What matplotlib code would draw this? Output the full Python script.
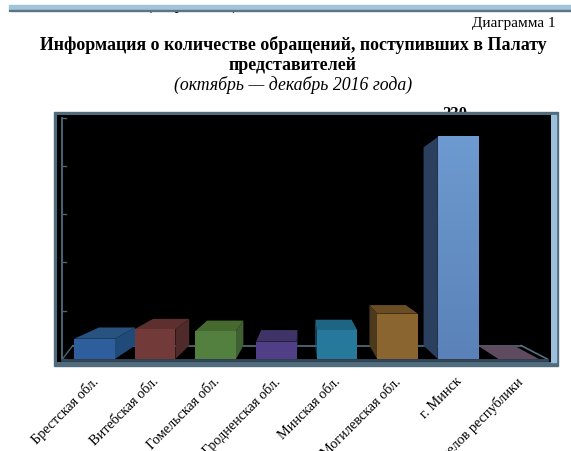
import matplotlib
matplotlib.use('Agg')
import numpy as np
from matplotlib import pyplot as plt
from matplotlib.colors import LinearSegmentedColormap
from matplotlib.patches import Polygon, Rectangle
from matplotlib.transforms import Bbox

plt.rcParams['font.family'] = ['Liberation Serif', 'DejaVu Serif']

categories = ['Брестская обл.', 'Витебская обл.', 'Гомельская обл.', 'Гродненская обл.',
              'Минская обл.', 'Могилевская обл.', 'г. Минск', 'отделов республики']
values = [21, 31, 29, 18, 30, 47, 230, 0]
yticks = [0, 50, 100, 150, 200, 250]

front_colors = ['#2e5f9c', '#733a3a', '#54803f', '#503f86', '#27799b', '#8a6530', '#6d9ad0', '#5f4b60']
side_colors = ['#204a78', '#4e2a2a', '#3f6030', '#3a2f60', '#1d5f7c', '#4d3a1d', '#2b3f5e', '#5f4b60']
top_colors = ['#28527f', '#5e2f2f', '#46692f', '#403368', '#1e6583', '#6b4d24', '#2b3f5e', '#5f4b60']

W, H = 571, 452
BAR_W = 0.67
# vanishing point and depth of the fake 3d box, in data units
VX, VY, DEPTH = 3.47, 130, 0.107


def px(x, y):
    return x / W, 1 - y / H


def back(x, y):
    return x + DEPTH * (VX - x), y + DEPTH * (VY - y)


fig = plt.figure(figsize=(W / 100, H / 100), dpi=100)

# page stuff above the chart
fig.add_artist(Rectangle(px(9, 11), 562 / W, 5 / H, color='#a0c4d8', zorder=2))
fig.add_artist(Rectangle(px(9, 12), 562 / W, 1 / H, color='#5d7484', zorder=2))
cut = fig.text(*px(192, 6), '(     ф             )', fontsize=11, fontweight='bold',
               ha='center', va='center', zorder=1)
cut.set_clip_box(Bbox([[0, H - 14], [W, H - 11]]))
cut.set_clip_on(True)

fig.text(*px(556, 23), 'Диаграмма 1', fontsize=11, ha='right', va='center')
fig.text(*px(293, 45), 'Информация о количестве обращений, поступивших в Палату',
         fontsize=12.85, fontweight='bold', ha='center', va='center')
fig.text(*px(293, 65), 'представителей', fontsize=12.85, fontweight='bold', ha='center', va='center')
fig.text(*px(293, 85), '(октябрь — декабрь 2016 года)', fontsize=12.8, fontstyle='italic',
         ha='center', va='center')

# data label sits behind the frame so only its top shows
fig.text(*px(455, 118), str(values[6]), fontsize=12, fontweight='bold', ha='center',
         va='baseline', zorder=-1)

# chart frame
fig.add_artist(Rectangle(px(54, 367), 504 / W, 254 / H, color='#4f6b7c', zorder=1))
fig.add_artist(Rectangle(px(551, 363), 5 / W, 247 / H, color='#9cc0dc', zorder=1.5))

ax = fig.add_axes([57 / W, 1 - 363 / H, 494 / W, 247 / H], zorder=2)
ax.set_facecolor('black')
xlim = (-0.619, 7.533)
ylim = (-3.1, 252.8)
for s in ax.spines.values():
    s.set_visible(False)

# walls and floor
x0, x1 = xlim[0] + 0.09, 7.47
bx1, by1 = back(x1, 0)
ax.plot([x0, x0], [0, yticks[-1]], color='#4a6475', lw=1.4)
for t in yticks:
    ax.plot([x0, x0 + 0.06], [t, t], color='#4a6475', lw=1)
ax.plot([x0, x0 + 0.17], [0, by1], color='#4a6475', lw=1)
ax.plot([x0 + 0.17, bx1], [by1, by1], color='#56707f', lw=1.2)
ax.plot([bx1, x1], [by1, 0], color='#56707f', lw=1.2)
ax.plot([x0, x1], [-1, -1], color='#34485a', lw=2)

xs = list(range(len(values)))
for x, v, fc, sc, tc in zip(xs, values, front_colors, side_colors, top_colors):
    left, right = x - BAR_W / 2, x + BAR_W / 2
    # top first, then the side that faces the viewer
    if v < VY:
        top = [(left, v), (right, v), back(right, v), back(left, v)]
        ax.add_patch(Polygon(top, closed=True, color=tc, lw=0, zorder=3))
    if right < VX:
        side = [(right, 0), (right, v), back(right, v), back(right, 0)]
        ax.add_patch(Polygon(side, closed=True, color=sc, lw=0, zorder=3))
    elif left > VX:
        side = [(left, 0), (left, v), back(left, v), back(left, 0)]
        ax.add_patch(Polygon(side, closed=True, color=sc, lw=0, zorder=3))
bars = ax.bar(xs, values, BAR_W, color=front_colors, lw=0, zorder=4)

# tall bar fades a bit towards the floor
fade = LinearSegmentedColormap.from_list('fade', ['#6d9ad0', '#5a82b8'])
tall = bars[6]
ax.imshow(np.linspace(0, 1, 64).reshape(-1, 1), cmap=fade, aspect='auto', zorder=4.5,
          extent=(tall.get_x(), tall.get_x() + tall.get_width(), 0, tall.get_height()))

ax.set_xlim(xlim)
ax.set_ylim(ylim)
ax.set_yticks([])
ax.set_xticks([x + 0.03 for x in xs])
ax.set_xticklabels(categories, rotation=45, ha='right', va='center', rotation_mode='anchor',
                   fontsize=10.3)
ax.tick_params(axis='x', length=0, pad=12)

fig.savefig('out.png', dpi=100)
